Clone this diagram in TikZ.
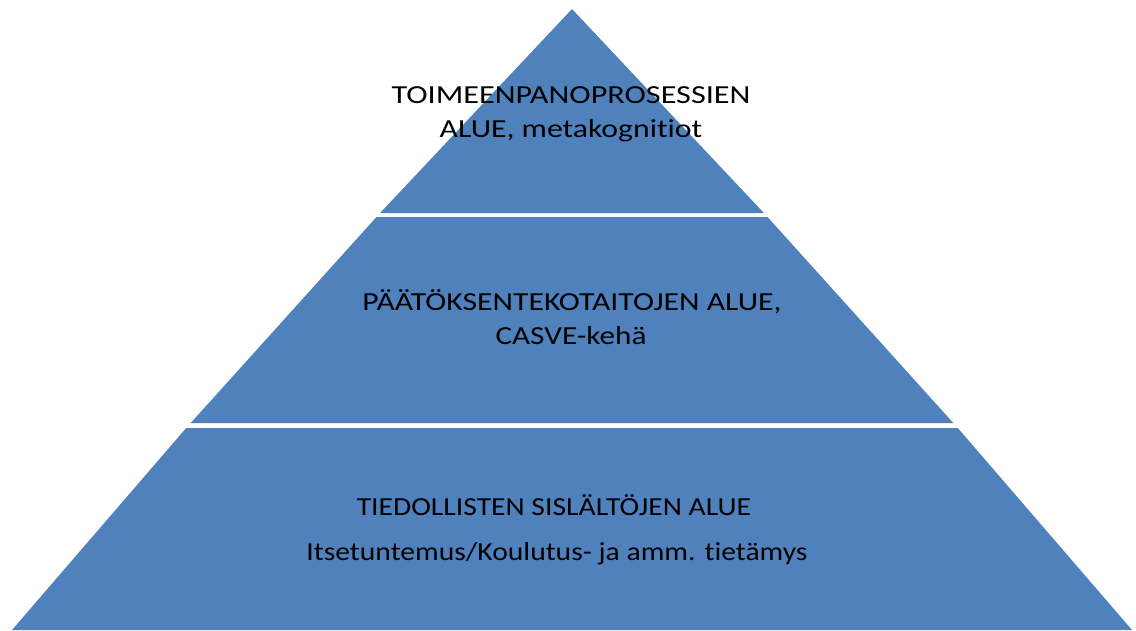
\documentclass[tikz,border=0pt]{standalone}
\usepackage{fontspec}
\setmainfont{Carlito}[RawFeature=-liga]
\definecolor{pyrblue}{HTML}{4F81BD}
\newcommand{\wide}[2]{\scalebox{#1}[1]{#2}}
\begin{document}
\begin{tikzpicture}[x=1pt,y=-1pt,
  band/.style={fill=pyrblue,draw=none},
  lbl/.style={inner sep=0pt,anchor=base,font=\fontsize{26}{34}\selectfont,text=black}]
\useasboundingbox (0,0) rectangle (1136,630);
% apex (572,9); left edge x = 572 - 0.9018*(y-9)
\coordinate (apex) at (572,9);
\coordinate (bl) at (12,630);
\coordinate (br) at (1132,630);
\path[band] (apex) -- (380.1,213) -- (763.9,213) -- cycle;
\path[band] (376.5,217) -- (767.5,217) -- (953.3,423) -- (190.7,423) -- cycle;
\path[band] (186.2,428) -- (957.8,428) -- (br) -- (bl) -- cycle;
\node[lbl] (t1) at (571,103) {\wide{1.24}{TOIMEENPANOPROSESSIEN}};
\node[lbl] (t2) at (571,137) {\wide{1.22}{ALUE, metakognitiot}};
\node[lbl] (m1) at (572,310) {\wide{1.22}{PÄÄTÖKSENTEKOTAITOJEN ALUE,}};
\node[lbl] (m2) at (571,344) {\wide{1.2}{CASVE-kehä}};
\node[lbl] (b1) at (554,515) {\wide{1.14}{TIEDOLLISTEN SISLÄLTÖJEN ALUE}};
\node[lbl] (b2) at (557,560) {\wide{1.14}{Itsetuntemus/Koulutus- ja amm. tietämys}};
\end{tikzpicture}
\end{document}
